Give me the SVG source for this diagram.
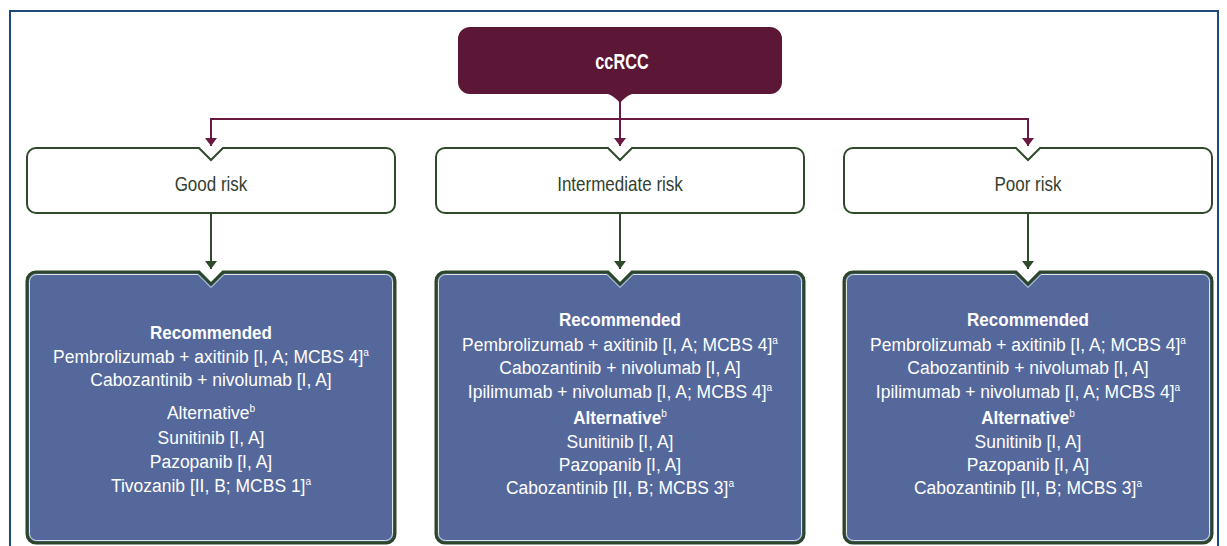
<svg xmlns="http://www.w3.org/2000/svg" width="1227" height="546" viewBox="0 0 1227 546">
<style>
.frame{fill:none;stroke:#1d4a78;stroke-width:2}
.root{fill:#5c1636}
.risk{fill:#ffffff;stroke:#2e4a2a;stroke-width:2}
.tx{fill:#55689c;stroke:#2b4528;stroke-width:3}
.inner{fill:none;stroke:#dfe6e2;stroke-width:1}
.mc{fill:none;stroke:#6a1a40;stroke-width:2}
.gc{fill:none;stroke:#2e4a2a;stroke-width:2}
text{font-family:"Liberation Sans",Arial,sans-serif;text-anchor:middle}
.rl{font-size:21px;fill:#333f30}
.rt{font-size:22px;fill:#ffffff;font-weight:bold}
.bt{font-size:19px;fill:#ffffff}
.b{font-weight:bold;font-size:18.5px}
.sup{font-size:11px;font-weight:normal}
</style>
<defs>
<marker id="am" viewBox="0 0 8 12" refX="8" refY="6" markerWidth="8" markerHeight="12" markerUnits="userSpaceOnUse" orient="auto"><path d="M0 0 L8 6 L0 12 Z" fill="#6a1a40"/></marker>
<marker id="ag" viewBox="0 0 8 12" refX="8" refY="6" markerWidth="8" markerHeight="12" markerUnits="userSpaceOnUse" orient="auto"><path d="M0 0 L8 6 L0 12 Z" fill="#2e4a2a"/></marker>
</defs>
<path class="frame" d="M10 546 V11 H1218 V546"/>
<g id="connectors">
<path class="mc" d="M620 100 V119 H211 V146" marker-end="url(#am)"/>
<path class="mc" d="M620 119 H1028 V146" marker-end="url(#am)"/>
<path class="mc" d="M620 100 V146" marker-end="url(#am)"/>
<path class="gc" d="M211 213 V269" marker-end="url(#ag)"/>
<path class="gc" d="M620 213 V269" marker-end="url(#ag)"/>
<path class="gc" d="M1028 213 V269" marker-end="url(#ag)"/>
</g>
<g id="ccrcc">
<path class="root" d="M470 27 H770 A12 12 0 0 1 782 39 V82 A12 12 0 0 1 770 94 H632 Q626 96 620 103 Q614 96 608 94 H470 A12 12 0 0 1 458 82 V39 A12 12 0 0 1 470 27 Z"/>
<text class="rt" transform="translate(622 69) scale(0.74 1)" x="0" y="0">ccRCC</text>
</g>
<g id="good-risk">
<path class="risk" d="M36 148 H199 L211 160 L223 148 H386 A9 9 0 0 1 395 157 V204 A9 9 0 0 1 386 213 H36 A9 9 0 0 1 27 204 V157 A9 9 0 0 1 36 148 Z"/>
<text class="rl" transform="translate(211 191) scale(0.81 1)" x="0" y="0">Good risk</text>
</g>
<g id="intermediate-risk">
<path class="risk" d="M445 148 H608 L620 160 L632 148 H795 A9 9 0 0 1 804 157 V204 A9 9 0 0 1 795 213 H445 A9 9 0 0 1 436 204 V157 A9 9 0 0 1 445 148 Z"/>
<text class="rl" transform="translate(620 191) scale(0.81 1)" x="0" y="0">Intermediate risk</text>
</g>
<g id="poor-risk">
<path class="risk" d="M853 148 H1016 L1028 160 L1040 148 H1203 A9 9 0 0 1 1212 157 V204 A9 9 0 0 1 1203 213 H853 A9 9 0 0 1 844 204 V157 A9 9 0 0 1 853 148 Z"/>
<text class="rl" transform="translate(1028 191) scale(0.81 1)" x="0" y="0">Poor risk</text>
</g>
<g id="good-treatment">
<path class="tx" d="M36 272 H199 L211 284 L223 272 H386 A9 9 0 0 1 395 281 V534 A9 9 0 0 1 386 543 H36 A9 9 0 0 1 27 534 V281 A9 9 0 0 1 36 272 Z"/>
<path class="inner" d="M36.5 274.5 H198 L211 287.5 L224 274.5 H385.5 A7 7 0 0 1 392.5 281.5 V533.5 A7 7 0 0 1 385.5 540.5 H36.5 A7 7 0 0 1 29.5 533.5 V281.5 A7 7 0 0 1 36.5 274.5 Z"/>
<g transform="translate(211 0) scale(0.92 1)">
<text class="bt b" x="0" y="339">Recommended</text>
<text class="bt" x="0" y="363">Pembrolizumab + axitinib [I, A; MCBS 4]<tspan class="sup" dy="-7">a</tspan></text>
<text class="bt" x="0" y="386">Cabozantinib + nivolumab [I, A]</text>
<text class="bt" x="0" y="419">Alternative<tspan class="sup" dy="-7">b</tspan></text>
<text class="bt" x="0" y="444">Sunitinib [I, A]</text>
<text class="bt" x="0" y="468">Pazopanib [I, A]</text>
<text class="bt" x="0" y="492">Tivozanib [II, B; MCBS 1]<tspan class="sup" dy="-7">a</tspan></text>
</g>
</g>
<g id="intermediate-treatment">
<path class="tx" d="M445 272 H608 L620 284 L632 272 H795 A9 9 0 0 1 804 281 V534 A9 9 0 0 1 795 543 H445 A9 9 0 0 1 436 534 V281 A9 9 0 0 1 445 272 Z"/>
<path class="inner" d="M445.5 274.5 H607 L620 287.5 L633 274.5 H794.5 A7 7 0 0 1 801.5 281.5 V533.5 A7 7 0 0 1 794.5 540.5 H445.5 A7 7 0 0 1 438.5 533.5 V281.5 A7 7 0 0 1 445.5 274.5 Z"/>
<g transform="translate(620 0) scale(0.92 1)">
<text class="bt b" x="0" y="326">Recommended</text>
<text class="bt" x="0" y="351">Pembrolizumab + axitinib [I, A; MCBS 4]<tspan class="sup" dy="-7">a</tspan></text>
<text class="bt" x="0" y="374">Cabozantinib + nivolumab [I, A]</text>
<text class="bt" x="0" y="398">Ipilimumab + nivolumab [I, A; MCBS 4]<tspan class="sup" dy="-7">a</tspan></text>
<text class="bt b" x="0" y="424">Alternative<tspan class="sup" dy="-7">b</tspan></text>
<text class="bt" x="0" y="448">Sunitinib [I, A]</text>
<text class="bt" x="0" y="471">Pazopanib [I, A]</text>
<text class="bt" x="0" y="494">Cabozantinib [II, B; MCBS 3]<tspan class="sup" dy="-7">a</tspan></text>
</g>
</g>
<g id="poor-treatment">
<path class="tx" d="M853 272 H1016 L1028 284 L1040 272 H1203 A9 9 0 0 1 1212 281 V534 A9 9 0 0 1 1203 543 H853 A9 9 0 0 1 844 534 V281 A9 9 0 0 1 853 272 Z"/>
<path class="inner" d="M853.5 274.5 H1015 L1028 287.5 L1041 274.5 H1202.5 A7 7 0 0 1 1209.5 281.5 V533.5 A7 7 0 0 1 1202.5 540.5 H853.5 A7 7 0 0 1 846.5 533.5 V281.5 A7 7 0 0 1 853.5 274.5 Z"/>
<g transform="translate(1028 0) scale(0.92 1)">
<text class="bt b" x="0" y="326">Recommended</text>
<text class="bt" x="0" y="351">Pembrolizumab + axitinib [I, A; MCBS 4]<tspan class="sup" dy="-7">a</tspan></text>
<text class="bt" x="0" y="374">Cabozantinib + nivolumab [I, A]</text>
<text class="bt" x="0" y="398">Ipilimumab + nivolumab [I, A; MCBS 4]<tspan class="sup" dy="-7">a</tspan></text>
<text class="bt b" x="0" y="424">Alternative<tspan class="sup" dy="-7">b</tspan></text>
<text class="bt" x="0" y="448">Sunitinib [I, A]</text>
<text class="bt" x="0" y="471">Pazopanib [I, A]</text>
<text class="bt" x="0" y="494">Cabozantinib [II, B; MCBS 3]<tspan class="sup" dy="-7">a</tspan></text>
</g>
</g>
</svg>
